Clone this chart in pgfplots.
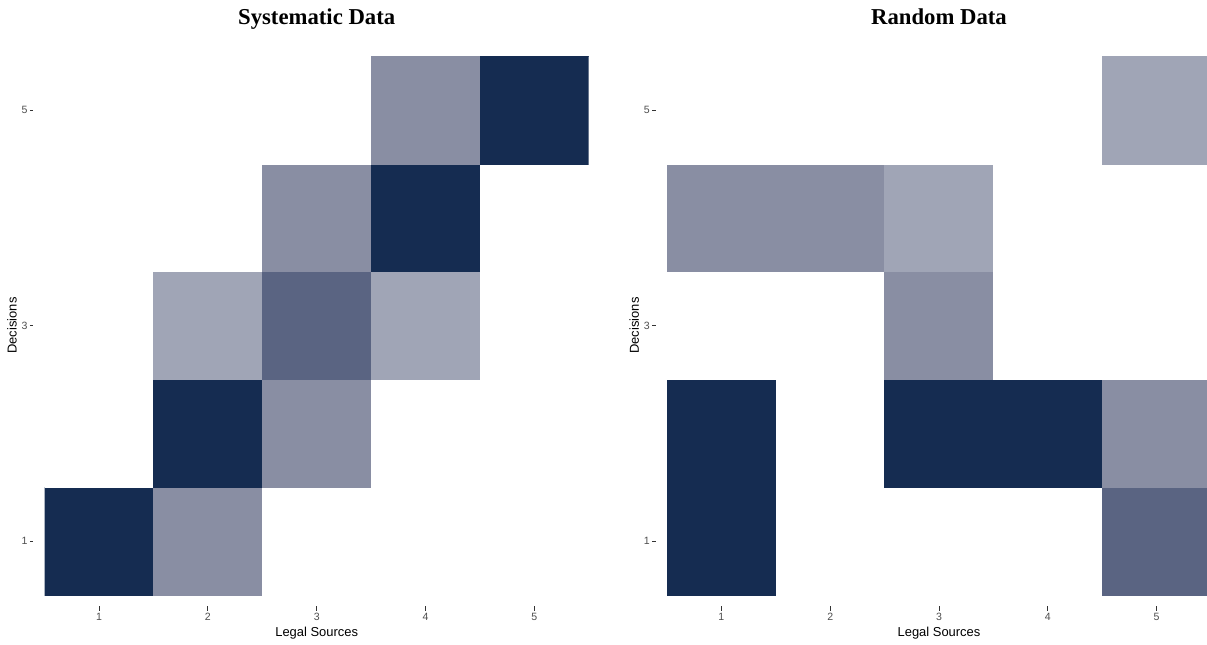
\documentclass[border=0pt]{standalone}
\usepackage{pgfplots}
\pgfplotsset{compat=1.18}
\usepackage{pgfplotstable}
\usepackage{fontspec}
\setmainfont{Liberation Sans}
\newfontfamily\titlefont{Liberation Serif}
\definecolor{tickc}{RGB}{51,51,51}
\definecolor{ticklab}{RGB}{77,77,77}

\pgfplotstableread{
x y c
1 1 4
2 1 2
3 1 0
4 1 0
5 1 0
1 2 0
2 2 4
3 2 2
4 2 0
5 2 0
1 3 0
2 3 1
3 3 3
4 3 1
5 3 0
1 4 0
2 4 0
3 4 2
4 4 4
5 4 0
1 5 0
2 5 0
3 5 0
4 5 2
5 5 4
}\systematic

\pgfplotstableread{
x y c
1 1 4
2 1 0
3 1 0
4 1 0
5 1 3
1 2 4
2 2 0
3 2 4
4 2 4
5 2 2
1 3 0
2 3 0
3 3 2
4 3 0
5 3 0
1 4 2
2 4 2
3 4 1
4 4 0
5 4 0
1 5 0
2 5 0
3 5 0
4 5 0
5 5 1
}\randomdata

\pgfplotsset{
  tileaxis/.style={
    scale only axis,
    width=544bp, height=539bp,
    xmin=0.5, xmax=5.5, ymin=0.5, ymax=5.5,
    axis line style={draw=none},
    xtick={1,2,3,4,5}, ytick={1,3,5},
    xtick style={draw=none},
    ytick style={draw=none},
    tick pos=left,
    major tick length=0pt,
    /pgf/number format/assume math mode=true,
    xticklabel style={anchor=north, inner sep=0pt, yshift=-11bp, align=center, text=ticklab},
    xticklabel={\textcolor{tickc}{\rule{0.8bp}{4.5bp}}\\[-2bp]\fontsize{10.6}{12.5}\selectfont\pgfmathprintnumber{\tick}},
    yticklabel style={anchor=east, inner sep=0pt, xshift=-11bp, text=ticklab},
    yticklabel={\fontsize{10.6}{12.5}\selectfont\pgfmathprintnumber{\tick}\hspace{2.5bp}\textcolor{tickc}{\rule[3bp]{3.5bp}{0.8bp}}},
    label style={font=\fontsize{13}{15}\selectfont},
    xlabel={Legal Sources},
    ylabel={Decisions},
    xlabel style={at={(axis description cs:0.5,-0.0761)}, anchor=base},
    ylabel style={at={(axis description cs:-0.0515,0.5)}, anchor=base},
    title style={at={(axis description cs:0.5,1.0482)}, anchor=base, font=\titlefont\bfseries\fontsize{22.8}{26}\selectfont},
    colormap={tiles}{rgb255=(255,255,255) rgb255=(160,165,182) rgb255=(137,142,163) rgb255=(90,100,130) rgb255=(21,44,81)},
    colormap access=direct,
  }
}

\begin{document}
\begin{tikzpicture}
\path[use as bounding box] (-44.7bp,-50bp) rectangle (1162.3bp,595bp);
\begin{axis}[tileaxis, at={(0,0)}, anchor=south west, title={Systematic Data}]
\addplot[matrix plot*, mesh/cols=5, point meta=explicit] table[x=x, y=y, meta=c] {\systematic};
\end{axis}
\begin{axis}[tileaxis, at={(622.3bp,0)}, anchor=south west, title={Random Data}]
\addplot[matrix plot*, mesh/cols=5, point meta=explicit] table[x=x, y=y, meta=c] {\randomdata};
\end{axis}
\end{tikzpicture}
\end{document}
